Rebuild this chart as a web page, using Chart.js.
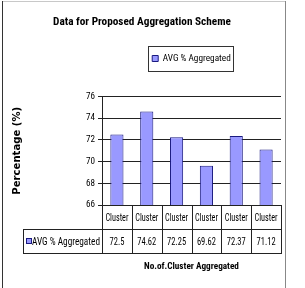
<!DOCTYPE html>
<html lang="en">
<head>
    <meta charset="UTF-8">
    <title>Data for Proposed Aggregation Scheme</title>
    <style>
        body { margin: 0; background: #fff; }
        canvas { display: block; }
    </style>
</head>
<body>
    <canvas id="myChart" width="305" height="288"></canvas>

    <script src="https://cdn.jsdelivr.net/npm/chart.js"></script>

    <script>
        // data
        let labels = ['Cluster', 'Cluster', 'Cluster', 'Cluster', 'Cluster', 'Cluster'];
        let values = [72.5, 74.62, 72.25, 69.62, 72.37, 71.12];
        let valueText = ['72.5', '74.62', '72.25', '69.62', '72.37', '71.12'];
        let seriesName = 'AVG % Aggregated';
        let yTicks = [66, 68, 70, 72, 74, 76];

        const NARROW = "'Roboto Condensed', 'Open Sans Condensed', 'Liberation Sans', sans-serif";
        const WIDE = "'DejaVu Sans', sans-serif";
        const BAR_FILL = '#9999ff';
        const BAR_LINE = '#1a1a80';

        // pick a font size so a text comes out about as wide as in the picture
        const measure = document.createElement('canvas').getContext('2d');
        function textWidth(text, weight, size, family) {
            measure.font = weight + ' ' + size + 'px ' + family;
            return measure.measureText(text).width;
        }
        function fitSize(text, weight, family, target) {
            return 20 * target / textWidth(text, weight, 20, family);
        }

        const titleSize = fitSize('Data for Proposed Aggregation Scheme', 'bold', NARROW, 178);
        const legendSize = fitSize(seriesName, 'normal', NARROW, 68);
        const xTitleSize = fitSize('No.of.Cluster Aggregated', 'bold', NARROW, 95);
        const yTitleSize = fitSize('Percentage (%)', 'bold', WIDE, 88);
        const tickSize = Math.min(10.5, fitSize('76', 'normal', NARROW, 9));

        // vertical spacing of title / legend / plot top
        const titleTop = 15;
        const titleBottom = titleTop + titleSize * 1.2;
        const legendPad = 58.5 - titleBottom - legendSize / 2;
        const legendBottom = 58.5 + legendSize / 2 + 10;
        const gapHeight = 96.5 - legendBottom;

        // frame, legend border and the data table under the axis
        const tablePlugin = {
            id: 'tablePlugin',
            afterDraw(chart) {
                const ctx = chart.ctx;
                const area = chart.chartArea;
                const x = chart.scales.x;
                const step = (area.right - area.left) / labels.length;
                const top = Math.round(area.bottom);
                const row1 = top + 24;
                const row2 = row1 + 24;
                const labelLeft = 23;
                const cellSize = 10.5;
                const cellFont = cellSize + 'px ' + NARROW;

                ctx.save();
                // outer frame
                ctx.lineWidth = 1;
                ctx.strokeStyle = '#c8c8c8';
                ctx.beginPath(); ctx.moveTo(2, 1.5); ctx.lineTo(286, 1.5); ctx.stroke();
                ctx.strokeStyle = '#333';
                ctx.beginPath(); ctx.moveTo(2.5, 1); ctx.lineTo(2.5, 288); ctx.stroke();
                ctx.strokeStyle = '#888';
                ctx.beginPath(); ctx.moveTo(285.5, 1); ctx.lineTo(285.5, 288); ctx.stroke();

                // legend border
                const legend = chart.legend;
                if (legend && legend.legendHitBoxes.length) {
                    const hb = legend.legendHitBoxes[0];
                    const cy = hb.top + hb.height / 2;
                    ctx.strokeStyle = '#333';
                    ctx.strokeRect(Math.round(hb.left) - 3.5, Math.round(cy - 12.5) + 0.5,
                        Math.round(hb.width) + 6, 25);
                }

                // table lines
                ctx.strokeStyle = '#222';
                ctx.beginPath();
                ctx.moveTo(area.left, top + 0.5); ctx.lineTo(area.right, top + 0.5);
                ctx.moveTo(labelLeft, row1 + 0.5); ctx.lineTo(area.right, row1 + 0.5);
                ctx.moveTo(labelLeft, row2 + 0.5); ctx.lineTo(area.right, row2 + 0.5);
                ctx.moveTo(labelLeft + 0.5, row1); ctx.lineTo(labelLeft + 0.5, row2 + 1);
                for (let i = 0; i <= labels.length; i++) {
                    const lx = Math.round(area.left + i * step) + 0.5;
                    ctx.moveTo(lx, top); ctx.lineTo(lx, row2 + 1);
                }
                ctx.stroke();

                // table text, squeezed sideways like a narrow font
                function cellText(text, cx, cy, squeeze, align) {
                    ctx.save();
                    ctx.font = cellFont;
                    ctx.translate(cx, cy);
                    ctx.scale(Math.min(1, squeeze), 1);
                    ctx.textAlign = align;
                    ctx.textBaseline = 'middle';
                    ctx.fillText(text, 0, 0);
                    ctx.restore();
                }
                ctx.fillStyle = '#000';
                const kLabel = 23 / textWidth('Cluster', 'normal', cellSize, NARROW);
                const kValue = 19 / textWidth('74.62', 'normal', cellSize, NARROW);
                for (let i = 0; i < labels.length; i++) {
                    const cx = x.getPixelForValue(i);
                    cellText(labels[i], cx, (top + row1) / 2 + 1, kLabel, 'center');
                    cellText(valueText[i], cx, (row1 + row2) / 2 + 1, kValue, 'center');
                }

                // series key in the label cell
                ctx.fillStyle = BAR_FILL;
                ctx.strokeStyle = BAR_LINE;
                ctx.fillRect(labelLeft + 3, (row1 + row2) / 2 - 3, 6, 6);
                ctx.strokeRect(labelLeft + 3.5, (row1 + row2) / 2 - 2.5, 5, 5);
                ctx.fillStyle = '#000';
                cellText(seriesName, labelLeft + 9, (row1 + row2) / 2 + 1,
                    68 / textWidth(seriesName, 'normal', cellSize, NARROW), 'left');
                ctx.restore();
            }
        };

        const ctx = document.getElementById('myChart');

        let chart = new Chart(ctx, {
            type: 'bar',
            data: {
                labels: labels,
                datasets: [{
                    label: seriesName,
                    data: values,
                    backgroundColor: BAR_FILL,
                    borderColor: BAR_LINE,
                    borderWidth: 1,
                    barPercentage: 0.44,
                    categoryPercentage: 1
                }]
            },
            options: {
                responsive: false,
                animation: false,
                layout: { padding: { left: 3, right: 24, top: 0, bottom: 0 } },
                plugins: {
                    title: {
                        display: true,
                        text: 'Data for Proposed Aggregation Scheme',
                        color: '#000',
                        font: { family: NARROW, size: titleSize, weight: 'bold', lineHeight: 1.2 },
                        padding: { top: titleTop, bottom: 0 }
                    },
                    legend: {
                        display: true,
                        fullSize: false,
                        labels: {
                            color: '#000',
                            font: { family: NARROW, size: legendSize },
                            boxWidth: 6,
                            boxHeight: 6,
                            padding: legendPad
                        }
                    },
                    tooltip: { enabled: false }
                },
                scales: {
                    x: {
                        grid: { display: false },
                        border: { color: '#222' },
                        ticks: { display: false },
                        title: {
                            display: true,
                            text: 'No.of.Cluster Aggregated',
                            color: '#000',
                            font: { family: NARROW, size: xTitleSize, weight: 'bold' },
                            padding: { top: 0, bottom: 16 }
                        },
                        afterFit: function(scale) { scale.height = 83; }
                    },
                    // empty band between the legend and the plot
                    gap: {
                        type: 'category',
                        position: 'top',
                        grid: { display: false },
                        border: { display: false },
                        ticks: { display: false },
                        afterFit: function(scale) { scale.height = gapHeight; }
                    },
                    y: {
                        min: 66,
                        max: 76,
                        afterBuildTicks: function(scale) {
                            scale.ticks = yTicks.map(v => ({ value: v }));
                        },
                        grid: { color: '#222', tickLength: 4 },
                        border: { color: '#222' },
                        ticks: {
                            color: '#000',
                            font: { family: NARROW, size: tickSize },
                            padding: 3
                        },
                        title: {
                            display: true,
                            text: 'Percentage (%)',
                            color: '#000',
                            font: { family: WIDE, size: yTitleSize, weight: 'bold' },
                            padding: { top: 8, bottom: 0 }
                        },
                        afterFit: function(scale) { scale.width = 99; }
                    }
                }
            },
            plugins: [tablePlugin]
        });
    </script>
</body>
</html>
